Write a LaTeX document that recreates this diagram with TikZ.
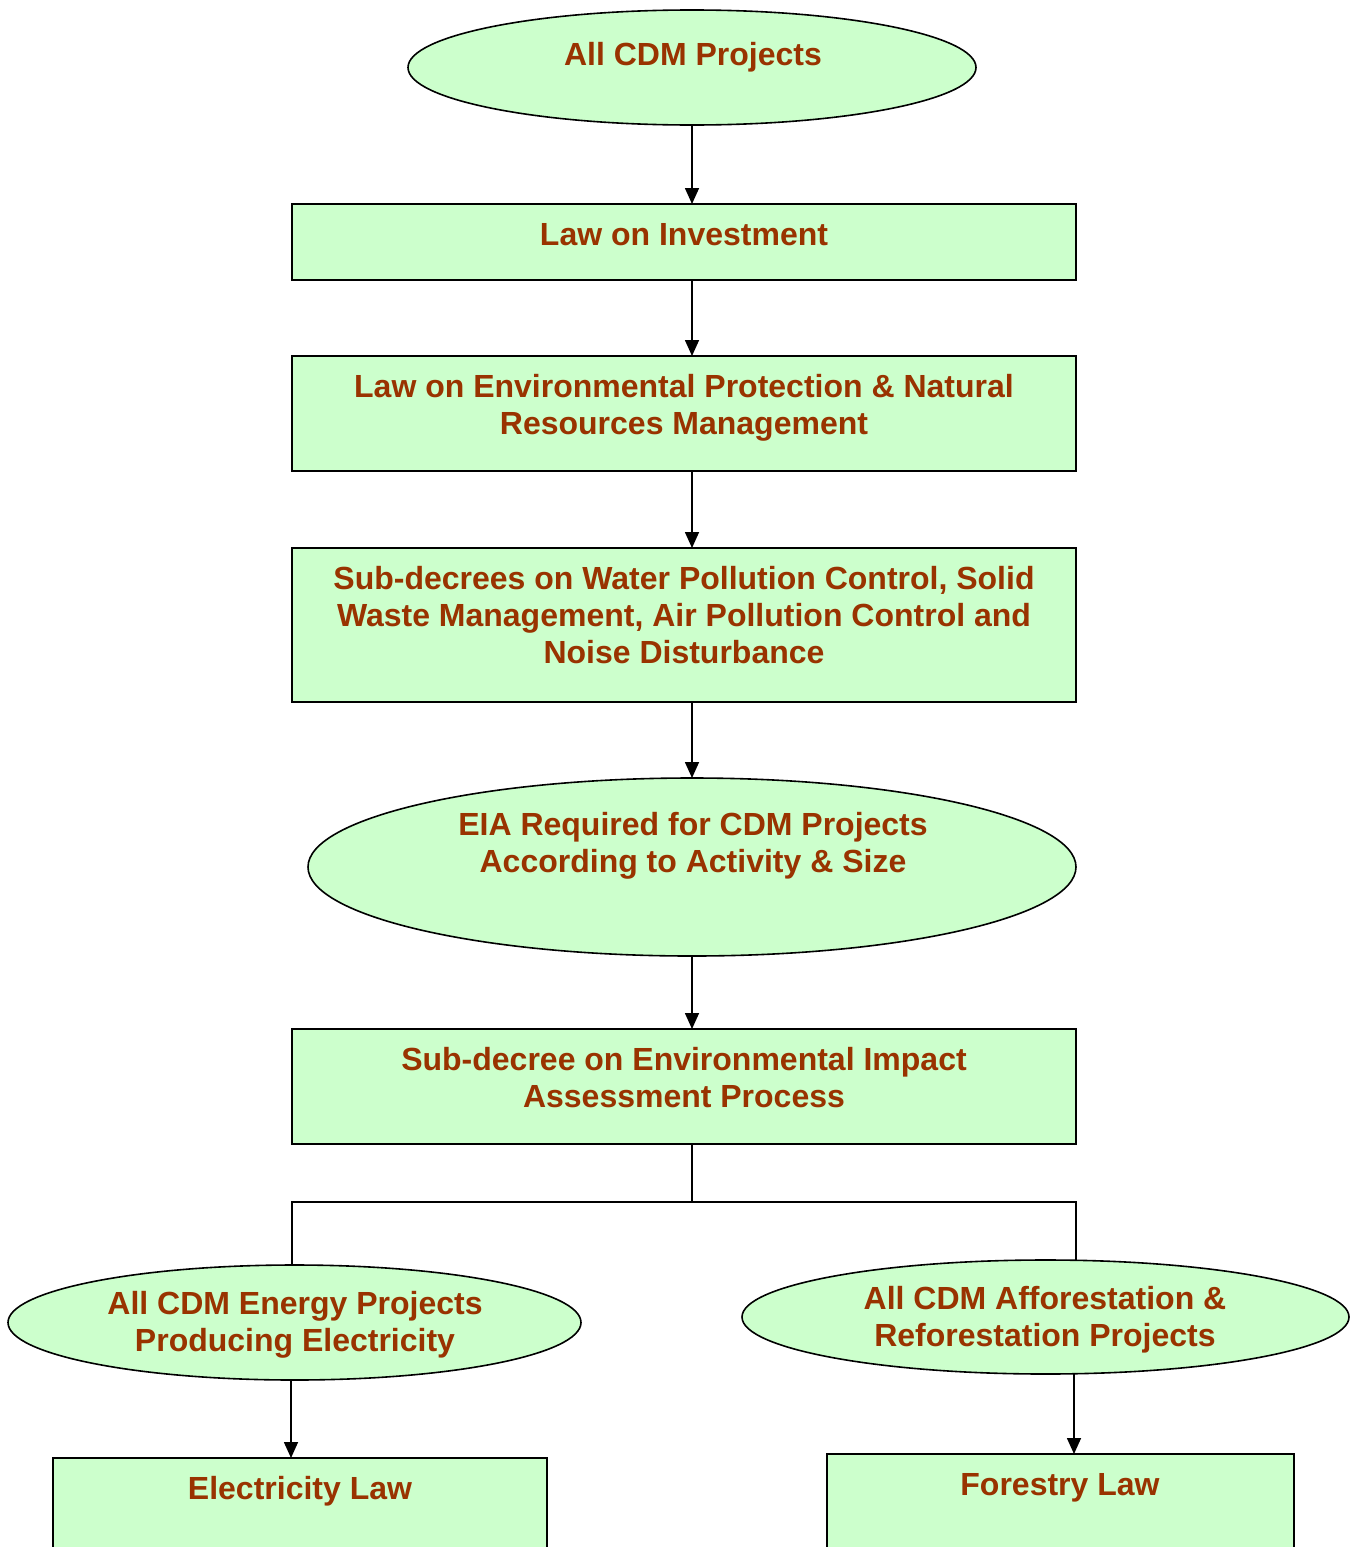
\documentclass[tikz,border=0pt]{standalone}
\usepackage{fontspec}
\setmainfont{Liberation Sans}
\usetikzlibrary{shapes.geometric,arrows.meta}
\definecolor{boxfill}{HTML}{CCFFCC}
\definecolor{txt}{HTML}{993300}
\begin{document}
\begin{tikzpicture}[x=1pt,y=-1pt,
  shapebox/.style={draw=black,line width=1.6pt,fill=boxfill,rectangle,inner sep=0,outer sep=0},
  shapeoval/.style={draw=black,line width=1.6pt,fill=boxfill,ellipse,inner sep=0,outer sep=0},
  lbl/.style={text=txt,font=\fontsize{32}{37}\selectfont\bfseries,align=center,inner sep=0},
  conn/.style={line width=1.6pt},
  arr/.style={conn,-{Triangle[width=14pt,length=16pt]}}]
\useasboundingbox (0,0) rectangle (1355,1547);
\clip (0,0) rectangle (1355,1547);
% shapes
\node[shapeoval,minimum width=568pt,minimum height=115pt] (e1) at (692,67.5) {};
\node[shapebox,minimum width=784pt,minimum height=76pt] (b1) at (684,242) {};
\node[shapebox,minimum width=784pt,minimum height=115pt] (b2) at (684,413.5) {};
\node[shapebox,minimum width=784pt,minimum height=154pt] (b3) at (684,625) {};
\node[shapeoval,minimum width=768pt,minimum height=178pt] (e2) at (692,867) {};
\node[shapebox,minimum width=784pt,minimum height=115pt] (b4) at (684,1086.5) {};
\node[shapeoval,minimum width=573pt,minimum height=115pt] (e3) at (294.5,1322.5) {};
\node[shapeoval,minimum width=607pt,minimum height=114pt] (e4) at (1045.5,1317) {};
\node[shapebox,minimum width=494pt,minimum height=140pt] (b5) at (300,1528) {};
\node[shapebox,minimum width=467pt,minimum height=140pt] (b6) at (1060.5,1524) {};
% texts
\node[lbl] (t1) at (693,57) {All CDM Projects};
\node[lbl] (t2) at (684,235) {Law on Investment};
\node[lbl] (t3) at (684,407.5) {Law on Environmental Protection \& Natural\\Resources Management};
\node[lbl] (t4) at (684,615) {Sub-decrees on Water Pollution Control, Solid\\Waste Management, Air Pollution Control and\\Noise Disturbance};
\node[lbl] (t5) at (693,845.5) {EIA Required for CDM Projects\\According to Activity \& Size};
\node[lbl] (t6) at (684,1077.5) {Sub-decree on Environmental Impact\\Assessment Process};
\node[lbl] (t7) at (295,1324.5) {All CDM Energy Projects\\Producing Electricity};
\node[lbl] (t8) at (1045,1319.5) {All CDM Afforestation \&\\Reforestation Projects};
\node[lbl] (t9) at (300,1491) {Electricity Law};
\node[lbl] (t10) at (1060,1488) {Forestry Law};
% connectors
\draw[arr] (e1.south) -- (b1.north -| e1.south);
\draw[arr] (b1.south -| e1.south) -- (b2.north -| e1.south);
\draw[arr] (b2.south -| e1.south) -- (b3.north -| e1.south);
\draw[arr] (b3.south -| e1.south) -- (e2.north);
\draw[arr] (e2.south) -- (b4.north -| e2.south);
\coordinate (j) at ([yshift=-58pt]b4.south -| e2.south);
\draw[conn] (b4.south -| e2.south) -- (j);
\draw[conn] (j) -| (b4.south west |- e3.north);
\draw[conn] (j) -| (b4.south east |- e4.north);
\draw[arr] ([xshift=-3.5pt]e3.south) -- ([xshift=-3.5pt]e3.south |- b5.north);
\draw[arr] ([xshift=28.5pt]e4.south) -- ([xshift=28.5pt]e4.south |- b6.north);
\end{tikzpicture}
\end{document}
